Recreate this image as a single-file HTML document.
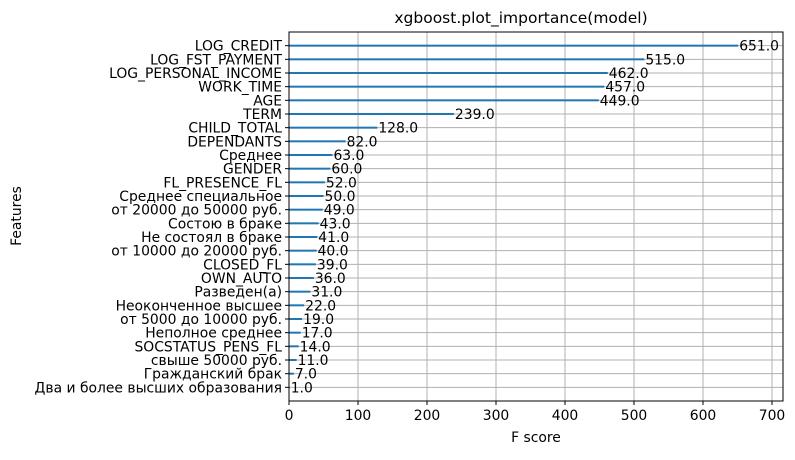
<!DOCTYPE html>
<html><head><meta charset="utf-8"><style>
body{margin:0;background:#fff;width:795px;height:455px;overflow:hidden}
svg{font-family:"DejaVu Sans","Liberation Sans",sans-serif}
</style></head><body>
<svg id="chart" width="795" height="455" xmlns="http://www.w3.org/2000/svg">
<text x="521" y="23" font-size="15.5" text-anchor="middle" fill="#000">xgboost.plot_importance(model)</text>
<text x="536" y="442" font-size="13.9" text-anchor="middle" fill="#000">F score</text>
<text x="21" y="216" font-size="13.9" text-anchor="middle" fill="#000" transform="rotate(-90 21 216)">Features</text>
<g id="grid"></g><g id="bars"></g><g id="axes"></g>
</svg>
<script>
const features = ["LOG_CREDIT","LOG_FST_PAYMENT","LOG_PERSONAL_INCOME","WORK_TIME","AGE","TERM","CHILD_TOTAL","DEPENDANTS","Среднее","GENDER","FL_PRESENCE_FL","Среднее специальное","от 20000 до 50000 руб.","Состою в браке","Не состоял в браке","от 10000 до 20000 руб.","CLOSED_FL","OWN_AUTO","Разведен(а)","Неоконченное высшее","от 5000 до 10000 руб.","Неполное среднее","SOCSTATUS_PENS_FL","свыше 50000 руб.","Гражданский брак","Два и более высших образования"];
const scores = [651,515,462,457,449,239,128,82,63,60,52,50,49,43,41,40,39,36,31,22,19,17,14,11,7,1];
const xTicks = [0,100,200,300,400,500,600,700];
const L=289,R=783,T=32,B=401;
const NS="http://www.w3.org/2000/svg";
const xs=v=>L+v*0.69;
const n=features.length, step=(B-T)/(n+1);
function mk(tag,attrs,parent){const e=document.createElementNS(NS,tag);for(const k in attrs)e.setAttribute(k,attrs[k]);document.getElementById(parent).appendChild(e);return e;}
xTicks.forEach(t=>{
 const g=mk('line',{x1:xs(t),x2:xs(t),y1:T,y2:B,stroke:'#b0b0b0','stroke-width':1},'grid');
 
 
 const tk=mk('line',{x1:xs(t),x2:xs(t),y1:B,y2:B+4,stroke:'#000'},'axes');
 
 
 const tl=mk('text',{x:xs(t),y:B+19,'font-size':13.9,'text-anchor':'middle'},'axes');
 tl.textContent=t;
 
 
});
features.forEach((f,i)=>{
 const yy=T+step*(i+1);
 const g=mk('line',{x1:L,x2:R,y1:yy,y2:yy,stroke:'#b0b0b0','stroke-width':1},'grid');
 
 
 const b=mk('rect',{x:L,y:yy-1,width:xs(scores[i])-L,height:2,fill:'#1f77b4'},'bars');
 
 
 const v=mk('text',{x:xs(scores[i])+1,y:yy+5,'font-size':13.9},'bars');
 v.textContent=scores[i].toFixed(1);
 
 
 const tk=mk('line',{x1:L-4,x2:L,y1:yy,y2:yy,stroke:'#000'},'axes');
 
 
 const tl=mk('text',{x:L-7,y:yy+5,'font-size':13.9,'text-anchor':'end'},'axes');
 tl.textContent=f;
 
 
});
const fr=mk('rect',{x:L,y:T,width:R-L,height:B-T,fill:'none',stroke:'#000','stroke-width':1},'axes');


</script>
</body></html>
